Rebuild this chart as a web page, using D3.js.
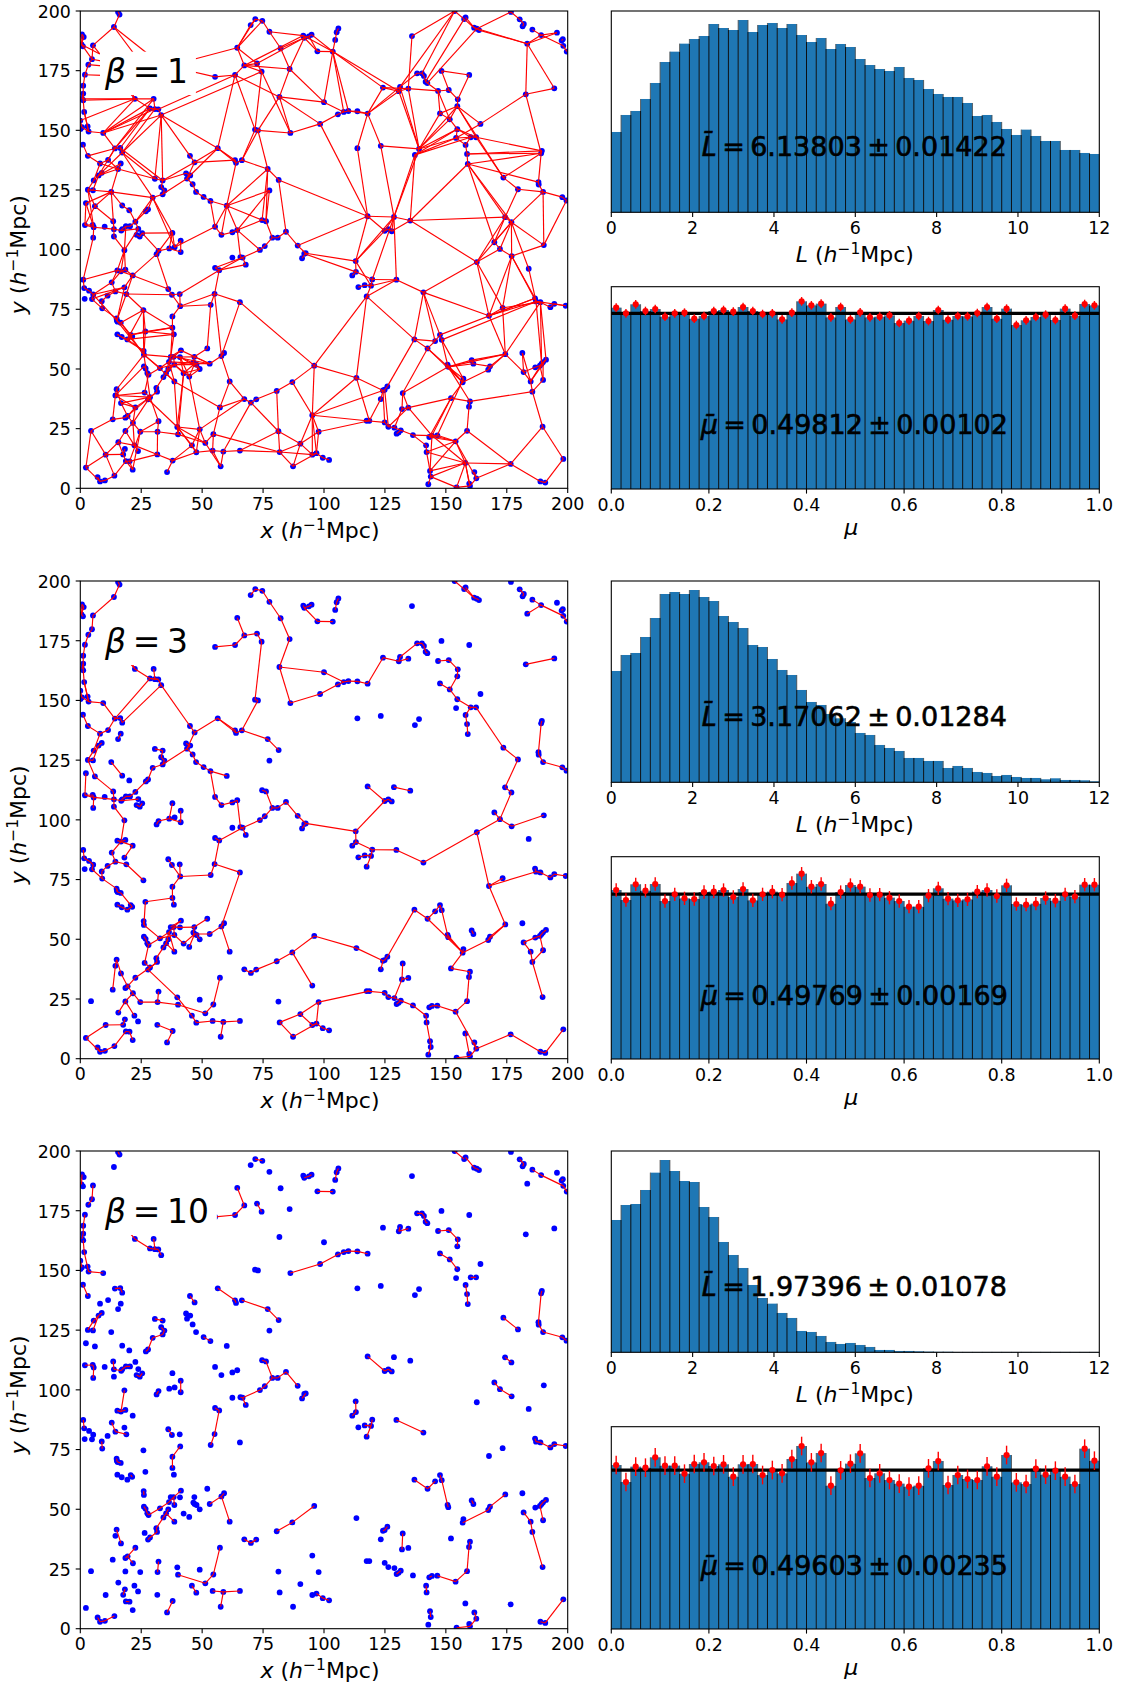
<!DOCTYPE html>
<html><head><meta charset="utf-8">
<style>html,body{margin:0;padding:0;background:#fff}svg{display:block}
text{font-family:"DejaVu Sans",sans-serif;fill:#000}
.ax path.domain{display:none}.ax line{stroke:#000;stroke-width:1.1}.ax text{font-size:17.4px;fill:#000}
</style>
<script src="https://cdn.jsdelivr.net/npm/d3@7"></script></head><body><script>
const betas=[1,3,10];
const xTicksXY=[0,25,50,75,100,125,150,175,200];
const lTicks=[0,2,4,6,8,10,12];
const muTicks=[0,0.2,0.4,0.6,0.8,1.0];
const lStats=["6.13803 ± 0.01422","3.17062 ± 0.01284","1.97396 ± 0.01078"];
const muStats=["0.49812 ± 0.00102","0.49769 ± 0.00169","0.49603 ± 0.00235"];
const points=[[15.5,199.6],[16.1,198.5],[13.8,193.3],[0.7,190.2],[1.4,189.1],[0.5,186],[1.1,185.2],[5.2,185.6],[4.8,179.8],[3.3,177.5],[1.9,173.3],[1.2,168.7],[1.2,165.4],[0.7,163.2],[1.2,162.6],[1.6,157.7],[0,154.1],[3,151.6],[0.7,151.3],[0.1,150.6],[3.4,149.5],[9.4,148.9],[1.1,144],[3.1,139.3],
[22.4,163.2],[30.1,163.2],[28.6,159.2],[30.6,158.9],[32,158.8],[33.2,156.4],
[14.2,142.4],[16.4,142.6],[17.2,140.7],[11.4,137.6],[8.1,136.1],[16.6,136.1],[15.5,133.8],[8.8,132.2],[7.5,131.1],[5.5,129],[3.1,125.1],[5.2,124.9],[12.7,124.2],[2.3,119.5],[6,118.2],[17.2,118.5],[20.1,116.5],[13.5,111.9],[1.9,110.3],[5.1,110.4],[5.5,109.4],[10,109.6],[13.8,108.6],[16.8,108],[17.2,108.6],[18.7,109.8],[20.4,109.8],[22.6,111.7],[23.8,108.7],[23.1,106.2],[24.4,105.5],[25.4,106.9],[13.8,105.5],[5.3,105],
[18.1,99.8],[15.2,91.3],[16.7,90.9],[18.5,91.6],[21.5,89.2],[18.1,84.2],[12.9,86.3],[14.4,82.5],[18.9,81.4],[25.9,74.7],[1.2,87.4],[1.6,83.9],[3.6,82.8],[5.3,81.2],[4.8,79.3],[1.8,79.4],[8.8,78.4],[9,75.4],[11.2,80.7],
[14.9,71.2],[15,70.3],[15.3,69.8],[16.6,69.4],[15.2,64.5],[17,63.4],[19.3,62.4],[20.7,64.3],[21.3,63.6],[26.7,65.7],
[37.8,107],[36.5,100.5],[38.7,101],[41.2,103.8],[41.2,99],[32.1,99.5],[31.3,98.1],
[30.6,129.7],[33.8,129],[33.2,126.2],[34.5,124.8],[33.8,123.2],[29.7,121.8],[27.8,116.9],[26.9,116.1],
[43.4,132],[45.1,131.1],[43.8,129.8],[46.1,127.4],[47.5,124.2],[50.6,122.1],[53.4,120.4],[60.1,118.4],
[45,139.3],[46.9,136.6],[56.4,142.5],[63.5,137.5],[63.9,136.4],[66.3,137.5],[76.9,133.8],[81.4,129.2],[77.6,124.8],
[55.3,109.6],[57.9,106.2],[62.4,107.3],[64.4,108.2],[74.6,112.4],[76.2,111.9],[78.8,105],[81,105],[84.4,107.5],[89.2,101.7],[92.5,98.5],[91.9,98.3],[91,96.4],[73.7,99.9],[75.7,101.5],
[62.4,96.7],[65.7,96.9],[66.6,96.7],[67.9,93.7],[55.3,92.4],[57,91.4],[55.1,81.5],[53.5,76.9],[65.5,78],
[36.1,83.5],[37.6,81.1],[40.8,81.4],[41,76.3],[37.8,72],[37.8,67.3],[38.4,64.5],
[26,57.6],[26.1,56],[26.1,51.1],[26.8,50.2],[27.5,48.3],[28,47.6],[32.7,50.4],[36.4,53],[37.1,55.1],[38.3,55.1],[38.6,51.8],[40.9,55],[41.3,57.8],[46.8,55.1],[46.4,52.8],[46.9,52.2],[47.7,51.8],[49,50],[52.1,58.6],[53.1,52.2],[57.9,55.4],[59,56.7],[61.3,44.8],
[42.4,48.2],[44.7,46.8],[38.6,44.8],[36.1,50],[35.2,48.3],[34.1,46.6],
[26.4,40.1],[31.2,42.1],[31.5,40.5],[28.6,38.2],[27.8,37.3],[22.6,33.9],[14.9,41.5],[14.4,38.9],[16.7,35.7],
[13.3,28.9],[18.5,29.6],[19.4,30.3],[21.6,27.4],[24.6,23.7],[18.5,24],[15.6,19.3],[18.3,16.5],[17.6,14.2],[22.2,18],[23.7,15.6],[18.7,11.4],[20.2,11.3],[21.5,7.8],[10.4,14.1],[2.3,8.7],[7.1,4.7],[8.1,2.9],[10.1,3.3],[14,5.3],[4.4,24.1],
[32.1,28.1],[31.7,23.7],[31.6,14.2],[37.9,11.6],[35.6,6.8],[39.8,25.7],[40.1,22.6],[49,24.7],[45.8,18],[47.6,15.1],[51.3,19],[54.6,22.7],[57.3,33.9],[54.3,15.8],[58.7,15.4],[65.5,15.8],[57.6,9.2],
[67.3,37.4],[70,35.9],[72.2,37.3],[80.6,40.8],[87,44.5],[96,51.4],[95.2,30.6],[81.3,23.9],[97.8,23.7],[81.8,15.2],[90.3,18.7],[87.3,9.2],[95.2,14.1],[96.9,14.7],[99.5,12.8],[102.1,11.9],
[64.4,184.6],[67.3,177.2],[63.5,173.2],[55.3,172.4],[72.5,178],[74.4,174.6],[69.9,194.1],[71.8,196.6],[74.7,195.9],[77.6,191.3],[82.2,184.4],[85.9,175.7],[81.7,164],[100,161.8],[98.4,152.7],[86.2,148.9],[71.7,150.3],[72.9,150],
[91.5,189.7],[91.9,188.8],[93.8,189.4],[94.9,190.1],[97.3,183.1],[103.6,183],[104.6,187.9],[105.2,191.1],[105.9,192.7],
[136.1,189.5],[105.7,156.7],[108.1,157.7],[110,158.1],[113.7,158],[117.9,157],[124.2,167.9],[131.2,168.2],[130.7,166.4],[134.6,167.5],[138.2,173.9],[140.2,173.9],[141,172.8],[141.7,170.4],[142.4,169.8],[148.2,174.9],[159.6,173.2],[146.8,166.5],[151.2,166.9],[154.9,163],[154.7,160.1],[147.6,157.1],[151.6,154.6],[154.7,150.5],[164.2,152.7],[154.2,146.8],[160.2,147.1],[162.4,147.1],[113.7,142.5],[123.3,143.5],[139,142.2],[137.3,139.7],[158.1,143.9],[158.7,140.1],[159,135.9],
[153.6,200],[157.5,196.6],[158.1,197.3],[161.6,193],[162.7,192.6],[163.6,192],[176.7,199.6],[180.3,196.5],[182,194.6],[181.5,193.6],[185.5,192.2],[189.1,189.9],[195.6,190.9],[198,188.2],[197.5,187.6],[198.2,185.4],[199.6,183],[183.4,186.3],[182.8,165.1],[194.5,167.6],
[173.6,130.2],[179.6,125.3],[174.3,113.6],[176.9,111.5],[169.9,103.1],[172.2,100.3],[177,97.3],[190.2,101.9],[162.7,94.8],[184,92],
[189.1,140.4],[189.4,141.4],[188,128.3],[188.1,127.3],[189.9,124.2],[197.8,122],[199.5,120.6],
[186.6,79.6],[187,78.3],[188.8,78],[192.9,75.9],[194.5,77.3],[199.2,76.5],[167.7,72.3],[173.3,75.6],
[128.7,113.7],[135.4,112.2],[117.9,114],[124.9,107.9],[126.4,108.6],[127.8,107.7],[113,95.2],[113.1,90.7],[111.6,89.2],[119.8,87.5],[116.7,85.1],[114.1,84.3],[119.3,84.9],[117.5,80.4],[129.7,87.4],[140.8,82.1],
[137.1,62.4],[142.5,58.6],[145.6,61.7],[147.6,64.3],[148.3,62.2],[150.7,51.8],[151,50.9],[181.4,56.7],[191.1,53.9],[189.9,52.9],[189.3,52.2],[188.6,51.4],[186.7,50.7],[181.9,48.7],[184.8,44.8],[189.9,45.4],[185.5,40.5],
[160.6,53.7],[161.3,52.2],[168.1,51.1],[167.4,49.7],[174.4,56.2],[157.2,45.9],[156.9,44.4],[152.1,37.8],[159.9,36.4],[159.5,34.2],[158.7,24.1],[154,19.7],
[113.3,46.3],[123.3,37.4],[124.2,41],[124.9,41.3],[126,42.7],[132.3,39.9],[132,33.2],[134.6,33.8],
[117.5,28.3],[118.6,28.3],[124.9,27.6],[126.4,25.8],[128.9,25.4],[131.5,24.3],[129.8,22.9],[130.6,23.4],[136.5,22.3],[141.9,18],[142.1,15.2],[143.2,21.5],[144.3,22.1],[146.5,22.2],[143.5,7.3],[143.8,4.9],[142.8,1.7],[158,10.6],[161.7,6.8],[162.5,4.2],[159.6,2],[159.9,1],[154.4,0.4],[176.6,10.2],[189.7,25.8],[188.8,2.9],[190.8,2.4],[198.2,12.3]];

const chainsBeta10=[[15.5,199.6,16.1,198.5],[0.7,190.2,0.5,186],[5.2,185.6,4.8,179.8,3.3,177.5],[1.9,173.3,1.2,168.7,1.2,165.4,0.7,163.2],[1.2,162.6,1.6,157.7,3.4,149.5,9.4,148.9],[0,154.1,0.7,151.3],[1.1,144,3.1,139.3],[14.2,142.4,16.4,142.6,17.2,140.7],[8.8,132.2,7.5,131.1,5.5,129,3.1,125.1],[5.2,124.9,7.5,131.1],[30.6,129.7,33.8,129],[33.2,126.2,34.5,124.8,33.8,123.2,29.7,121.8,27.8,116.9,26.9,116.1],[1.9,110.3,5.1,110.4,5.5,109.4,5.3,105],[13.5,111.9,13.8,108.6,16.8,108,17.2,108.6,18.7,109.8,20.4,109.8],[23.1,106.2,24.4,105.5,25.4,106.9],[41.2,103.8,41.2,99],[32.1,99.5,31.3,98.1],[18.1,99.8,16.7,90.9],[15.2,91.3,16.7,90.9,18.5,91.6],[1.2,87.4,1.6,83.9],[12.9,86.3,14.4,82.5,18.9,81.4],[8.8,78.4,9,75.4],[14.9,71.2,15,70.3,15.3,69.8,16.6,69.4],[21.3,63.6,20.7,64.3],[36.1,83.5,37.6,81.1],[41,76.3,37.8,72,37.8,67.3],[45,139.3,46.9,136.6],[50.6,122.1,53.4,120.4],[56.4,142.5,63.5,137.5,63.9,136.4],[66.3,137.5,76.9,133.8,81.4,129.2],[64.4,184.6,67.3,177.2,63.5,173.2,55.3,172.4],[72.5,178,74.4,174.6],[71.8,196.6,74.7,195.9],[91.9,188.8,93.8,189.4,94.9,190.1],[97.3,183.1,103.6,183],[104.6,187.9,105.2,191.1,105.9,192.7],[22.4,163.2,28.6,159.2,30.6,158.9,32,158.8,33.2,156.4],[30.1,163.2,30.6,158.9],[22.4,163.2,20,166],
[74.6,112.4,76.2,111.9,78.8,105,75.7,101.5,73.7,99.9,66.6,96.7,65.7,96.9],[66.6,96.7,67.9,93.7],[78.8,105,81,105,84.4,107.5,89.2,101.7],[92.5,98.5,91,96.4],[55.3,92.4,57,91.4,55.1,81.5,53.5,76.9],[86.2,148.9,98.4,152.7,105.7,156.7,108.1,157.7,110,158.1,113.7,158,117.9,157],[131.2,168.2,130.7,166.4,134.6,167.5],[138.2,173.9,140.2,173.9,141,172.8,141.7,170.4,142.4,169.8],[146.8,166.5,151.2,166.9,154.9,163,154.7,160.1],[147.6,157.1,151.6,154.6,154.7,150.5],[158.1,143.9,158.7,140.1,159,135.9],[160.2,147.1,162.4,147.1],[153.6,200,157.5,196.6],[158.1,197.3,161.6,193,162.7,192.6,163.6,192],[180.3,196.5,182,194.6,181.5,193.6],[185.5,192.2,189.1,189.9,198.2,185.4,199.6,183],[198,188.2,197.5,187.6],[173.6,130.2,179.6,125.3],[174.3,113.6,176.9,111.5],[169.9,103.1,172.2,100.3,177,97.3],[189.1,140.4,188,128.3],[189.4,141.4,189.1,140.4],[188,128.3,188.1,127.3,189.9,124.2,197.8,122,199.5,120.6],[186.6,79.6,187,78.3,188.8,78,192.9,75.9,194.5,77.3,199.2,76.5],[117.9,114,124.9,107.9,126.4,108.6,127.8,107.7],[113,95.2,113.1,90.7,111.6,89.2],[119.8,87.5,119.3,84.9,117.5,80.4],[129.7,87.4,140.8,82.1],[116.7,85.1,119.3,84.9],[137.1,62.4,142.5,58.6,145.6,61.7],[147.6,64.3,148.3,62.2,150.7,51.8,151,50.9],[156.9,44.4,167.4,49.7,168.1,51.1,174.4,56.2],[160.6,53.7,161.3,52.2],[96,51.4,87,44.5,80.6,40.8],[67.3,37.4,70,35.9,72.2,37.3],[124.2,41,124.9,41.3,126,42.7],[132.3,39.9,132,33.2],[159.9,36.4,159.5,34.2,158.7,24.1,154,19.7,146.5,22.2],[144.3,22.1,143.2,21.5],[141.9,18,142.1,15.2],[143.5,7.3,143.8,4.9],[154.4,0.4,159.9,1,162.5,4.2,161.7,6.8],[188.8,2.9,190.8,2.4,198.2,12.3],[181.9,48.7,184.8,44.8,185.5,40.5,189.7,25.8],[188.6,51.4,189.9,45.4],[188.6,51.4,189.3,52.2,189.9,52.9,191.1,53.9],[129.8,22.9,131.5,24.3],[96.9,14.7,99.5,12.8,102.1,11.9],[54.3,15.8,58.7,15.4,65.5,15.8],[58.7,15.4,57.6,9.2],[35.6,6.8,37.9,11.6],[40.1,22.6,51.3,19,54.6,22.7,57.3,33.9],[45.8,18,47.6,15.1],[31.7,23.7,32.1,28.1],[18.5,29.6,19.4,30.3,22.6,33.9],[19.4,30.3,21.6,27.4],[14.9,41.5,16.7,35.7],[27.8,37.3,28.6,38.2,31.5,40.5,31.2,42.1,34.1,46.6,35.2,48.3,36.1,50],[35.2,48.3,38.6,44.8],[36.4,53,38.3,55.1,41.3,57.8],[38.3,55.1,38.6,51.8],[26.8,50.2,27.5,48.3,28,47.6,32.7,50.4,36.4,53],[53.1,52.2,57.9,55.4,59,56.7],[57.9,55.4,61.3,44.8],[17.6,14.2,18.3,16.5],[18.7,11.4,20.2,11.3],[7.1,4.7,8.1,2.9,10.1,3.3,14,5.3],[26,57.6,26.1,56],[26.1,51.1,26.8,50.2]];

const chainsBeta3=[[16.1,198.5,13.8,193.3,5.2,185.6,4.8,179.8,3.3,177.5,1.9,173.3,1.2,168.7,1.2,165.4,1.2,162.6,1.6,157.7,3,151.6,3.4,149.5,9.4,148.9,14.2,142.4,11.4,137.6,8.1,136.1,3.1,139.3,1.1,144],[0.7,190.2,1.4,189.1,0.5,186,1.1,185.2],[0,154.1,0.7,151.3,3.4,149.5],[14.2,142.4,16.4,142.6,17.2,140.7,33.2,156.4,32,158.8,28.6,159.2,14.2,142.4],[22.4,163.2,20,168],[30.1,163.2,30.6,158.9],[33.2,156.4,45,139.3,46.9,136.6,56.4,142.5,63.9,136.4,66.3,137.5,76.9,133.8,81.4,129.2],[46.9,136.6,43.8,129.8,33.8,123.2,29.7,121.8,27.8,116.9,26.9,116.1,22.6,111.7,20.4,109.8,18.7,109.8,17.2,108.6,16.8,108,13.8,108.6,5.5,109.4],[2.3,119.5,1.9,110.3,5.5,109.4],[16.8,108,23.8,108.7],[5.5,109.4,5.3,105],[3.1,125.1,6,118.2,13.5,111.9,13.8,108.6,13.8,105.5,18.1,99.8,16.7,90.9,21.5,89.2,18.1,84.2],[16.7,90.9,12.9,86.3,14.4,82.5,18.9,81.4,25.9,74.7],[14.4,82.5,11.2,80.7,8.8,78.4,9,75.4,4.8,79.3,5.3,81.2,3.6,82.8,1.6,83.9,1.2,87.4],[15.2,91.3,16.7,90.9],[9,75.4,14.9,71.2,15.3,69.8,16.6,69.4,20.7,64.3],[15.2,64.5,17,63.4,19.3,62.4,21.3,63.6],[3.1,125.1,5.2,124.9,7.5,131.1,8.8,132.2],[5.5,129,8.1,136.1,11.4,137.6],[5.5,129,3.1,125.1],[16.6,136.1,15.5,133.8],[12.7,124.2,17.2,118.5],[30.6,129.7,33.8,129,33.2,126.2,34.5,124.8,33.8,123.2],[43.4,132,45.1,131.1,43.8,129.8,46.1,127.4,47.5,124.2,50.6,122.1,53.4,120.4,60.1,118.4],[53.4,120.4,55.3,109.6,57.9,106.2,62.4,107.3,64.4,108.2,65.7,96.9,66.6,96.7,67.9,93.7],[57,91.4,66.6,96.7,73.7,99.9,75.7,101.5,78.8,105,76.2,111.9,74.6,112.4],[78.8,105,81,105,84.4,107.5,89.2,101.7,92.5,98.5,91,96.4],[92.5,98.5,113,95.2,124.9,107.9,117.9,114],[124.9,107.9,126.4,108.6,127.8,107.7],[128.7,113.7,135.4,112.2],[55.3,92.4,57,91.4,55.1,81.5,65.5,78,57.9,55.4,53.1,52.2,46.9,52.2,46.4,52.8,46.8,55.1,40.9,55,38.3,55.1],[55.1,81.5,53.5,76.9,41,76.3,37.8,72,37.8,67.3,26.7,65.7,26.1,56,26,57.6],[36.1,83.5,37.6,81.1,41,76.3],[40.8,81.4,41,76.3],[37.8,67.3,38.4,64.5],[52.1,58.6,46.8,55.1],[38.3,55.1,36.4,53,35.2,48.3,34.1,46.6],[41.3,57.8,37.1,55.1],[32.7,50.4,28,47.6,27.5,48.3,26.8,50.2,26.1,51.1],[26.1,56,32.7,50.4,38.6,51.8,42.4,48.2,46.9,52.2,44.7,46.8],[36.4,53,38.6,44.8],[53.1,52.2,57.9,55.4,61.3,44.8],[57.9,55.4,59,56.7],[47.7,51.8,49,50],[28,47.6,26.4,40.1,28.6,38.2],[34.1,46.6,31.2,42.1,31.5,40.5,27.8,37.3,39.8,25.7,45.8,18,47.6,15.1,54.3,15.8,58.7,15.4,65.5,15.8],[58.7,15.4,57.6,9.2],[28.6,38.2,22.6,33.9,19.4,30.3,18.5,29.6],[14.9,41.5,14.4,38.9,13.3,28.9],[14.9,41.5,16.7,35.7,19.4,30.3,21.6,27.4,24.6,23.7,31.7,23.7,32.1,28.1],[31.7,23.7,40.1,22.6,51.3,19,54.6,22.7,57.3,33.9],[21.6,27.4,18.5,24,15.6,19.3],[18.5,24,22.2,18],[2.3,8.7,10.4,14.1,17.6,14.2,18.3,16.5],[2.3,8.7,8.1,2.9,10.1,3.3,14,5.3,18.7,11.4,20.2,11.3,21.5,7.8],[7.1,4.7,8.1,2.9],[31.6,14.2,37.9,11.6,35.6,6.8],[67.3,37.4,70,35.9,72.2,37.3,80.6,40.8,87,44.5,96,51.4,113.3,46.3,124.2,41,124.9,41.3,126,42.7,137.1,62.4,142.5,58.6,156.9,44.4],[87,44.5,95.2,30.6],[123.3,37.4,124.2,41],[81.8,15.2,90.3,18.7,97.8,23.7,96.9,14.7,87.3,9.2,81.8,15.2],[90.3,18.7,95.2,14.1,96.9,14.7],[97.8,23.7,118.6,28.3,117.5,28.3,124.9,27.6,126.4,25.8,128.9,25.4,131.5,24.3,136.5,22.3,141.9,18,142.1,15.2,143.5,7.3,143.8,4.9,142.8,1.7],[128.9,25.4,132,33.2,134.6,33.8],[132,33.2,132.3,39.9],[143.2,21.5,144.3,22.1,146.5,22.2,154,19.7,162.5,4.2,176.6,10.2,188.8,2.9],[162.5,4.2,159.9,1],[158,10.6,159.6,2],[154,19.7,158.7,24.1],[152.1,37.8,159.9,36.4],[152.1,37.8,156.9,44.4,157.2,45.9],[156.9,44.4,167.4,49.7,174.4,56.2,167.7,72.3,162.7,94.8,172.2,100.3,177,97.3,190.2,101.9],[172.2,100.3,176.9,111.5,174.3,113.6,179.6,125.3,173.6,130.2,162.4,147.1,160.2,147.1,158.1,143.9],[142.5,58.6,145.6,61.7,147.6,64.3,148.3,62.2,150.7,51.8,156.9,44.4],[151,50.9,156.9,44.4],[167.7,72.3,173.3,75.6],[167.7,72.3,187,78.3],[186.6,79.6,187,78.3],[181.9,48.7,186.7,50.7,188.6,51.4],[188.6,51.4,189.9,45.4,185.5,40.5,189.7,25.8],[182.8,165.1,194.5,167.6],[183.4,186.3,189.1,189.9],[157.5,196.6,161.6,193],[69.9,194.1,71.8,196.6],[67.3,177.2,72.5,178,74.4,174.6,71.7,150.3,72.9,150,66.3,137.5],[74.7,195.9,77.6,191.3,82.2,184.4,85.9,175.7,81.7,164,100,161.8,108.1,157.7],[117.9,157,124.2,167.9,130.7,166.4],[131.2,168.2,138.2,173.9],[81.7,164,86.2,148.9],[91.9,188.8,97.3,183.1],[91.5,189.7,91.9,188.8],[151.6,154.6,154.7,160.1],[154.7,150.5,160.2,147.1],[36.5,100.5,41.2,99],[37.8,107,36.5,100.5,32.1,99.5],[113.1,90.7,119.8,87.5,129.7,87.4],[140.8,82.1,162.7,94.8],[114.1,84.3,116.7,85.1],[119.3,84.9,119.8,87.5]];

const chainsBeta1Extra=[[13.8,193.3,24.5,178.7],[13.8,193.3,32.7,178],[5.2,185.6,8,182],[0.5,186,8,182],[4.8,179.8,9,179],[3.3,177.5,9,177],[1.9,173.3,9,173],[0.5,186,4.8,179.8],[64.4,184.6,40,178],[55.3,172.4,40,176],[0.7,163.2,22.4,163.2,30.1,163.2],[1.2,162.6,22.4,163.2],[0,154.1,22.4,163.2],[9.4,148.9,22.4,163.2],[9.4,148.9,30.1,163.2],[9.4,148.9,28.6,159.2],[9.4,148.9,30.6,158.9],[9.4,148.9,33.2,156.4],[33.2,156.4,74.4,174.6],[32,158.8,63.5,173.2],[14.2,142.4,30.1,163.2],[16.4,142.6,28.6,159.2],[17.2,140.7,30.6,158.9],[33.2,156.4,56.4,142.5],[33.2,156.4,30.6,129.7],[33.2,156.4,33.8,129],[17.2,140.7,30.6,129.7],[16.4,142.6,33.8,129],[7.5,131.1,17.2,140.7],[7.5,131.1,14.2,142.4],[7.5,131.1,16.6,136.1],[7.5,131.1,15.5,133.8],[11.4,137.6,15.5,133.8],[8.1,136.1,15.5,133.8],[15.5,133.8,30.6,129.7],[3.1,139.3,14.2,142.4],[12.7,124.2,15.5,133.8],[12.7,124.2,3.1,125.1],[12.7,124.2,2.3,119.5],[12.7,124.2,6,118.2],[1.9,110.3,6,118.2],[5.5,109.4,3.1,125.1],[5.5,109.4,2.3,119.5],[12.7,124.2,13.8,108.6],[12.7,124.2,29.7,121.8],[17.2,140.7,29.7,121.8],[29.7,121.8,37.8,107],[29.7,121.8,38.7,101],[37.8,107,25.4,106.9],[37.8,107,38.7,101],[38.7,101,55.3,109.6],[33.8,129,43.4,132],[33.8,129,46.9,136.6],[43.8,129.8,56.4,142.5],[46.9,136.6,63.5,137.5],[56.4,142.5,63.5,173.2],[63.9,136.4,60.1,118.4],[76.9,133.8,60.1,118.4],[77.6,124.8,60.1,118.4],[60.1,118.4,74.6,112.4],[60.1,118.4,55.3,109.6],[60.1,118.4,57.9,106.2],[60.1,118.4,64.4,108.2],[76.9,133.8,74.6,112.4],[76.9,133.8,76.2,111.9],[77.6,124.8,64.4,108.2],[77.6,124.8,76.2,111.9],[72.9,150,76.9,133.8],[71.7,150.3,66.3,137.5],[72.9,150,86.2,148.9],[81.4,129.2,84.4,107.5],[81.4,129.2,117.9,114],[63.5,173.2,81.7,164],[67.3,177.2,85.9,175.7],[64.4,184.6,72.5,178],[64.4,184.6,69.9,194.1],[64.4,184.6,71.8,196.6],[64.4,184.6,74.7,195.9],[77.6,191.3,91.5,189.7],[74.4,174.6,86.2,148.9],[85.9,175.7,100,161.8],[82.2,184.4,91.9,188.8],[85.9,175.7,91.9,188.8],[103.6,183,100,161.8],[67.3,177.2,91.5,189.7],[72.5,178,91.9,188.8],[63.5,173.2,71.7,150.3],[67.3,177.2,74.4,174.6],[81.7,164,72.9,150],[81.7,164,98.4,152.7],[98.4,152.7,117.9,114],[17.2,118.5,20.1,116.5,22.6,111.7],[29.7,121.8,22.6,111.7],[18.1,99.8,23.8,108.7],[18.7,109.8,18.1,99.8],[32.1,99.5,25.4,106.9],[41.2,103.8,38.7,101],[31.3,98.1,37.8,107],[5.3,105,1.2,87.4],[22.6,111.7,23.8,108.7],[36.5,100.5,32.1,99.5],
[64.4,108.2,74.6,112.4],[64.4,108.2,73.7,99.9],[89.2,101.7,117.9,114],[1.2,87.4,15.2,91.3],[5.3,81.2,12.9,86.3],[12.9,86.3,15.2,91.3],[5.3,81.2,18.1,84.2],[4.8,79.3,18.1,84.2],[18.9,81.4,37.6,81.1],[21.5,89.2,36.1,83.5],[18.5,91.6,21.5,89.2],[18.9,81.4,21.5,89.2],[18.1,99.8,15.2,91.3],[18.1,99.8,18.5,91.6],[21.5,89.2,31.3,98.1],[36.1,83.5,31.3,98.1],[25.9,74.7,26,57.6],[25.9,74.7,19.3,62.4],[25.9,74.7,16.6,69.4],[25.9,74.7,37.8,67.3],[25.9,74.7,26.7,65.7],[18.9,81.4,15,70.3],[18.1,84.2,15,70.3],[5.3,81.2,15,70.3],[20.7,64.3,26.7,65.7],[19.3,62.4,38.4,64.5],[26.7,65.7,38.4,64.5],[20.7,64.3,37.8,67.3],[15,70.3,26.1,56],[16.6,69.4,26.1,56],[19.3,62.4,26,57.6],[15.2,64.5,26,57.6],[26.1,56,37.1,55.1],[41.3,57.8,53.1,52.2],[38.4,64.5,37.1,55.1],[37.8,67.3,37.1,55.1],[53.5,76.9,52.1,58.6],[55.1,81.5,57.9,55.4],[65.5,78,96,51.4],[55.1,81.5,41,76.3],[40.8,81.4,57,91.4],[37.6,81.1,40.8,81.4],[55.3,92.4,66.6,96.7],[57,91.4,67.9,93.7],
[26.1,56,28.6,38.2],[26.1,56,38.6,44.8],[14.9,41.5,26.1,56],[14.4,38.9,26.1,51.1],[14.4,38.9,26.4,40.1],[14.4,38.9,28.6,38.2],[16.7,35.7,28.6,38.2],[16.7,35.7,22.6,33.9],[14.4,38.9,22.6,33.9],[18.5,29.6,28.6,38.2],[21.6,27.4,28.6,38.2],[21.6,27.4,22.6,33.9],[13.3,28.9,18.5,29.6],[13.3,28.9,4.4,24.1],[4.4,24.1,2.3,8.7],[4.4,24.1,10.4,14.1],[10.4,14.1,14,5.3],[15.6,19.3,18.5,24],[10.4,14.1,15.6,19.3],[15.6,19.3,22.2,18],[15.6,19.3,17.6,14.2,18.7,11.4,21.5,7.8],[23.7,15.6,22.2,18],[22.2,18,21.6,27.4],[24.6,23.7,21.5,7.8],[24.6,23.7,20.2,11.3],[28.6,38.2,32.1,28.1],[24.6,23.7,32.1,28.1],[31.7,23.7,31.6,14.2],[20.2,11.3,31.6,14.2],[31.6,14.2,22.2,18],[37.9,11.6,47.6,15.1],[47.6,15.1,39.8,25.7],[37.9,11.6,45.8,18],[39.8,25.7,40.1,22.6],[39.8,25.7,49,24.7],[49,24.7,45.8,18],[49,24.7,51.3,19],[49,24.7,47.6,15.1],[49,24.7,67.3,37.4],[39.8,25.7,51.3,19],[54.6,22.7,54.3,15.8],[57.3,33.9,67.3,37.4],[57.3,33.9,38.6,44.8],[61.3,44.8,57.3,33.9],[61.3,44.8,67.3,37.4],[51.3,19,57.6,9.2],[54.3,15.8,57.6,9.2],[58.7,15.4,70,35.9],[65.5,15.8,81.8,15.2],[81.8,15.2,81.3,23.9],[81.3,23.9,65.5,15.8],[81.3,23.9,70,35.9],[81.3,23.9,80.6,40.8],[81.3,23.9,90.3,18.7],[54.6,22.7,81.8,15.2],[38.6,44.8,39.8,25.7],[42.4,48.2,39.8,25.7],[42.4,48.2,40.1,22.6],[44.7,46.8,49,24.7],[95.2,30.6,97.8,23.7],[95.2,30.6,95.2,14.1],[95.2,30.6,96.9,14.7],[90.3,18.7,95.2,30.6],[97.8,23.7,90.3,18.7],[81.8,15.2,95.2,14.1],[90.3,18.7,87.3,9.2],[96,51.4,95.2,30.6],
[38.3,55.1,53.1,52.2],[36.4,53,53.1,52.2],[40.9,55,46.9,52.2],[38.6,51.8,46.4,52.8],[38.6,51.8,47.7,51.8],[46.8,55.1,53.1,52.2],[40.9,55,49,50],[38.6,51.8,44.7,46.8],[40.9,55,44.7,46.8],[42.4,48.2,40.9,55],[42.4,48.2,49,50],[44.7,46.8,49,50],[35.2,48.3,38.6,51.8],[36.1,50,38.6,51.8],[37.1,55.1,36.4,53],
[140.8,82.1,167.7,72.3],[140.8,82.1,137.1,62.4],[140.8,82.1,145.6,61.7],[140.8,82.1,147.6,64.3],[117.5,80.4,137.1,62.4],[117.5,80.4,113.3,46.3],[117.5,80.4,96,51.4],[129.7,87.4,117.5,80.4],[162.7,94.8,167.7,72.3],[162.7,94.8,173.3,75.6],[177,97.3,173.3,75.6],[177,97.3,167.7,72.3],[177,97.3,187,78.3],[177,97.3,186.6,79.6],[184,92,187,78.3],[173.3,75.6,174.4,56.2],[167.7,72.3,174.4,56.2],[188.8,78,174.4,56.2],[147.6,64.3,186.6,79.6],[148.3,62.2,187,78.3],[167.7,72.3,186.6,79.6],[173.3,75.6,188.8,78],[188.8,78,191.1,53.9],[188.8,78,189.3,52.2],[187,78.3,189.3,52.2],[187,78.3,199.2,76.5],[174.4,56.2,160.6,53.7],[151,50.9,160.6,53.7],[151,50.9,161.3,52.2],[161.3,52.2,168.1,51.1],[151,50.9,157.2,45.9],[151,50.9,159.9,36.4],[142.5,58.6,151,50.9],[137.1,62.4,126,42.7],[142.5,58.6,132.3,39.9],[151,50.9,132.3,39.9],[152.1,37.8,134.6,33.8],[152.1,37.8,144.3,22.1],[157,45.9,146.5,22.2],[159.9,36.4,185.5,40.5],[189.7,25.8,176.6,10.2],[189.7,25.8,198.2,12.3],[158.7,24.1,176.6,10.2],[176.6,10.2,158,10.6],[158,10.6,154,19.7],[158,10.6,144.3,22.1],[158,10.6,142.1,15.2],[158,10.6,143.5,7.3],[158,10.6,143.8,4.9],[154,19.7,143.5,7.3],[154,19.7,142.1,15.2],[144.3,22.1,143.5,7.3],[154.4,0.4,143.8,4.9],[158,10.6,154.4,0.4],[158,10.6,159.9,1],[113.3,46.3,124.2,41],[113.3,46.3,118.6,28.3],[124.2,41,124.9,27.6],[123.3,37.4,118.6,28.3],[124.9,41.3,126.4,25.8],[95.2,30.6,124.2,41],[95.2,30.6,117.5,28.3],[113.3,46.3,95.2,30.6],[132.3,39.9,134.6,33.8],[134.6,33.8,144.3,22.1],[134.6,33.8,126.4,25.8],[132,33.2,128.9,25.4],[136.5,22.3,144.3,22.1],[144.3,22.1,154,19.7],[143.2,21.5,154,19.7],[152.1,37.8,143.2,21.5],[137.1,62.4,145.6,61.7],[148.3,62.2,157.2,45.9],[174.4,56.2,151,50.9],[174.4,56.2,181.9,48.7],[184.8,44.8,189.3,52.2],[184.8,44.8,191.1,53.9],[181.4,56.7,181.9,48.7],[181.4,56.7,184.8,44.8],[185.5,40.5,189.9,45.4],[189.9,45.4,189.9,52.9],[113.1,90.7,119.8,87.5],[91.9,98.3,113.1,90.7],[119.8,87.5,128.7,113.7],[129.7,87.4,128.7,113.7],[119.3,84.9,113,95.2],[129.7,87.4,119.3,84.9],
[103.6,183,124.2,167.9],[103.6,183,130.7,166.4],[103.6,183,108.1,157.7],[103.6,183,110,158.1],[103.6,183,104.6,187.9],[100,161.8,108.1,157.7],[110,158.1,117.9,157],[113.7,158,117.9,157],[117.9,157,131.2,168.2],[117.9,157,130.7,166.4],[117.9,157,113.7,142.5],[117.9,157,123.3,143.5],[113.7,142.5,117.9,114],[123.3,143.5,139,142.2],[123.3,143.5,128.7,113.7],[130.7,166.4,139,142.2],[124.2,167.9,134.6,167.5],[134.6,167.5,146.8,166.5],[131.2,168.2,153.6,200],[136.1,189.5,134.6,167.5],[136.1,189.5,153.6,200],[140.2,173.9,153.6,200],[141.7,170.4,157.5,196.6],[142.4,169.8,162.7,192.6],[153.6,200,157.5,196.6],[162.7,192.6,176.7,199.6],[163.6,192,183.4,186.3],[161.6,193,183.4,186.3],[176.7,199.6,180.3,196.5],[183.4,186.3,189.1,189.9],[183.4,186.3,195.6,190.9],[189.1,189.9,195.6,190.9],[183.4,186.3,194.5,167.6],[183.4,186.3,182.8,165.1],[182.8,165.1,164.2,152.7],[182.8,165.1,189.1,140.4],[164.2,152.7,154.7,160.1],[154.7,160.1,173.6,130.2],[154.7,160.1,162.4,147.1],[154.7,160.1,139,142.2],[151.6,154.6,139,142.2],[147.6,157.1,139,142.2],[154.2,146.8,139,142.2],[154.7,150.5,139,142.2],[154.7,150.5,137.3,139.7],[154.2,146.8,137.3,139.7],[160.2,147.1,137.3,139.7],[162.4,147.1,189.1,141],[162.4,147.1,189.4,141.4],[158.7,140.1,189.1,140.4],[158.7,140.1,189.4,141.4],[159,135.9,189.1,140.4],[159,135.9,188,128.3],[173.6,130.2,189.1,140.4],[179.6,125.3,189.9,124.2],[189.9,124.2,176.9,111.5],[189.9,124.2,190.2,101.9],[197.8,122,199.5,120.6],[199.5,120.6,190.2,101.9],[159,135.9,174.3,113.6],[159,135.9,176.9,111.5],[159,135.9,169.9,103.1],[159,135.9,135.4,112.2],[176.9,111.5,190.2,101.9],[176.9,111.5,172.2,100.3],[176.9,111.5,177,97.3],[176.9,111.5,169.9,103.1],[176.9,111.5,184,92],[174.3,113.6,135.4,112.2],[137.3,139.7,135.4,112.2],[137.3,139.7,128.7,113.7],[139,142.2,128.7,113.7],[131.2,168.2,139,142.2],[134.6,167.5,139,142.2],[146.8,166.5,147.6,157.1],[146.8,166.5,151.6,154.6],[148.2,174.9,151.2,166.9],[148.2,174.9,159.6,173.2],[159.6,173.2,154.9,163],[154.9,163,154.7,160.1],[154.7,160.1,147.6,157.1],[146.8,166.5,151.2,166.9],[142.4,169.8,146.8,166.5],[117.9,114,128.7,113.7],[128.7,113.7,135.4,112.2],[117.9,114,113,95.2],[128.7,113.7,113,95.2],[128.7,113.7,124.9,107.9],[128.7,113.7,127.8,107.7],[135.4,112.2,127.8,107.7],[135.4,112.2,162.7,94.8],[174.3,113.6,169.9,103.1],[174.3,113.6,162.7,94.8],[176.9,111.5,162.7,94.8],[164.2,152.7,154.2,146.8],[158.1,143.9,154.2,146.8],[154.2,146.8,160.2,147.1],[154.7,150.5,154.2,146.8],[154.7,150.5,162.4,147.1],[91.5,189.7,103.6,183],[93.8,189.4,97.3,183.1],[94.9,190.1,103.6,183],[97.3,183.1,91.9,188.8]];

const lHist1=[241,292,304,340,388,451,482,506,520,529,565,553,547,577,541,562,568,553,565,532,511,523,490,505,496,460,442,430,424,436,403,397,370,355,346,346,328,289,292,271,250,232,248,229,214,214,187,187,178,175];
const lHist2=[334,382,388,436,493,565,571,565,577,556,544,499,481,463,412,406,370,337,322,277,241,232,205,192,181,148,142,112,103,94,73,73,64,64,43,49,43,31,28,19,22,16,13,13,9,12,7,7,6,3];
const lHist3=[397,442,445,487,539,577,544,514,511,436,406,331,292,253,202,163,146,118,103,64,61,49,31,25,28,22,16,7,7,4,4,3,2,1.5,1.5,1,1,1,1,1,1,1,1,1,1,1,1,1,1,1];
const lDomainMax=604;
const muTop1=[83,100,73,93,87,110,100,98,116,108,93,90,95,81,93,102,100,118,98,64,76,71,112,81,118,97,112,110,106,129,122,108,123,90,119,108,109,99,81,116,86,135,121,111,104,120,86,107,72,76];
const muTop2=[120,150,103,122,102,153,133,145,147,126,125,120,141,117,151,133,125,134,99,71,110,102,161,126,105,110,135,134,143,153,170,170,137,115,146,151,148,125,120,138,106,162,164,161,144,152,133,140,104,104];
const muTop3=[135,186,140,143,112,137,137,161,132,127,138,133,170,133,132,165,150,160,117,78,127,99,197,151,131,100,174,160,180,191,200,197,145,123,195,165,177,180,139,170,105,187,192,146,164,152,170,192,86,122];
const muDomainMax=607;
const muHists=[muTop1,muTop2,muTop3].map(a=>a.map(v=>627-v));
const muMeans=[527,495,477];
const muErrs=[13,20,28];

const svg=d3.select("body").append("svg").attr("width",1122).attr("height",1686);
const defs=svg.append("defs");
const rows=[
 {pTop:11,pBot:488.3,lTop:11,lBot:212.3,mTop:286.7,mBot:489,lBase:156,mBase:434},
 {pTop:581,pBot:1058.7,lTop:581,lBot:782.3,mTop:856.7,mBot:1059,lBase:726,mBase:1005},
 {pTop:1151,pBot:1628.7,lTop:1151,lBot:1352.3,mTop:1426.7,mBot:1629,lBase:1296,mBase:1575}];
const lx0=80.3,lx1=567.7,rx0=611.3,rx1=1099.3;

function snap(x,y){let best=null,bd=1.6*1.6;for(const p of points){const d=(p[0]-x)**2+(p[1]-y)**2;if(d<bd){bd=d;best=p}}return best||[x,y]}
function edgesFrom(list){const seen=new Map();for(const c of list){for(let i=0;i+3<c.length;i+=2){const a=snap(c[i],c[i+1]),b=snap(c[i+2],c[i+3]);if(a===b)continue;const k=[a,b].map(String).sort().join("|");if(!seen.has(k))seen.set(k,[a,b])}}return [...seen.values()]}
const edgeSets=[edgesFrom([...chainsBeta10,...chainsBeta3,...chainsBeta1Extra]),edgesFrom([...chainsBeta10,...chainsBeta3]),edgesFrom(chainsBeta10)];

function spines(g,x0,x1,y0,y1){g.append("rect").attr("x",x0).attr("y",y0).attr("width",x1-x0).attr("height",y1-y0).attr("fill","none").attr("stroke","#000").attr("stroke-width",1.1)}
function axisStyle(a){return a.tickSizeOuter(0).tickSize(4.6).tickPadding(4.8).offset(0)}
function hLabel(g,x,y,kind){
 const t=g.append("text").attr("x",x).attr("y",y).attr("text-anchor","middle").style("font-size","22px").attr("xml:space","preserve");
 if(kind==="mu"){t.append("tspan").attr("font-style","italic").text("μ");return t}
 t.append("tspan").attr("font-style","italic").text(kind);
 t.append("tspan").text(" (");
 t.append("tspan").attr("font-style","italic").text("h");
 t.append("tspan").attr("dy",-8).style("font-size","15.5px").text("−1");
 t.append("tspan").attr("dy",8).text("Mpc)");
 return t}

function statText(g,y,sym,val){
 const t=g.append("text").attr("x",(rx0+rx1)/2-1).attr("y",y).attr("text-anchor","middle").style("font-size","27px").style("word-spacing","-3.2px").attr("stroke","#000").attr("stroke-width",0.6).attr("xml:space","preserve");
 t.append("tspan").attr("font-style","italic").text(sym+"\u0304");
 t.append("tspan").text(" = "+val);
}

function histogram(g,top,bot,vals,domainMax,xDomain){
 const x=d3.scaleLinear().domain(xDomain).range([rx0,rx1]);
 const y=d3.scaleLinear().domain([0,domainMax]).range([bot,top]);
 const w=(xDomain[1]-xDomain[0])/vals.length;
 g.append("g").selectAll("rect").data(vals).join("rect")
  .attr("x",(d,i)=>x(xDomain[0]+i*w)).attr("width",(rx1-rx0)/vals.length+0.15)
  .attr("y",d=>y(d)).attr("height",d=>bot-y(d)).attr("fill","#1f77b4");
 const seps=d3.range(1,vals.length);
 g.append("g").selectAll("line").data(seps).join("line")
  .attr("x1",i=>x(xDomain[0]+i*w)).attr("x2",i=>x(xDomain[0]+i*w))
  .attr("y1",bot).attr("y2",i=>y(Math.min(vals[i-1],vals[i])))
  .attr("stroke","#0a0a0a").attr("stroke-width",0.95);
 g.append("g").selectAll("line").data(seps).join("line")
  .attr("x1",i=>x(xDomain[0]+i*w)).attr("x2",i=>x(xDomain[0]+i*w))
  .attr("y1",i=>y(Math.min(vals[i-1],vals[i]))).attr("y2",i=>y(Math.max(vals[i-1],vals[i])))
  .attr("stroke","#555").attr("stroke-width",0.9);
 return {x,y,w}
}

rows.forEach((r,ri)=>{
 const root=svg.append("g");
 const x=d3.scaleLinear().domain([0,200]).range([lx0,lx1]);
 const y=d3.scaleLinear().domain([0,200]).range([r.pBot,r.pTop]);
 defs.append("clipPath").attr("id","clip"+ri).append("rect").attr("x",lx0).attr("y",r.pTop).attr("width",lx1-lx0).attr("height",r.pBot-r.pTop);
 const p=root.append("g");
 const pc=p.append("g").attr("clip-path",`url(#clip${ri})`);
 pc.append("g").selectAll("circle").data(points).join("circle")
  .attr("cx",d=>x(d[0])).attr("cy",d=>y(d[1])).attr("r",2.9).attr("fill","#0000ff");
 pc.append("g").selectAll("line").data(edgeSets[ri]).join("line")
  .attr("x1",d=>x(d[0][0])).attr("y1",d=>y(d[0][1])).attr("x2",d=>x(d[1][0])).attr("y2",d=>y(d[1][1]))
  .attr("stroke","#ff0000").attr("stroke-width",1.15);
 const bb=p.append("rect").attr("fill","#fff").attr("x",100).attr("y",r.pTop+40.7).attr("height",43.3);
 const bt=p.append("text").attr("x",105).attr("y",r.pTop+71.7).style("font-size","33px").style("word-spacing","-3.9px").attr("xml:space","preserve");
 bt.append("tspan").attr("font-style","italic").text("β");
 bt.append("tspan").text(" = "+betas[ri]);
 bb.attr("width",bt.node().getComputedTextLength()+5+8);
 spines(p,lx0,lx1,r.pTop,r.pBot);
 p.append("g").attr("class","ax").attr("transform",`translate(0,${r.pBot})`).call(axisStyle(d3.axisBottom(x)).tickValues(xTicksXY));
 const ya=p.append("g").attr("class","ax").attr("transform",`translate(${lx0},0)`).call(axisStyle(d3.axisLeft(y)).tickValues(xTicksXY));
 ya.selectAll("text").attr("dy","0.39em");
 hLabel(p,(lx0+lx1)/2-4,r.pBot+49.7,"x");
 const yl=p.append("g").attr("transform",`translate(25.5,${(r.pTop+r.pBot)/2+5}) rotate(-90)`);
 hLabel(yl,0,0,"y");

 const lg=root.append("g");
 const h=histogram(lg,r.lTop,r.lBot,[lHist1,lHist2,lHist3][ri],lDomainMax,[0,12]);
 spines(lg,rx0,rx1,r.lTop,r.lBot);
 lg.append("g").attr("class","ax").attr("transform",`translate(0,${r.lBot})`).call(axisStyle(d3.axisBottom(h.x)).tickValues(lTicks).tickFormat(d3.format("d")));
 hLabel(lg,(rx0+rx1)/2-0.5,r.lBot+49.7,"L");
 statText(lg,r.lBase,"L",lStats[ri]);

 const mg=root.append("g");
 const vals=muHists[ri];
 const m=histogram(mg,r.mTop,r.mBot,vals,muDomainMax,[0,1]);
 mg.append("line").attr("x1",rx0).attr("x2",rx1).attr("y1",m.y(muMeans[ri])).attr("y2",m.y(muMeans[ri])).attr("stroke","#000").attr("stroke-width",3.3);
 const cx=i=>m.x((i+0.5)*m.w);
 mg.append("g").selectAll("line").data(vals).join("line")
  .attr("x1",(d,i)=>cx(i)).attr("x2",(d,i)=>cx(i)).attr("y1",d=>m.y(d-muErrs[ri])).attr("y2",d=>m.y(d+muErrs[ri]))
  .attr("stroke","#ff0000").attr("stroke-width",1.4);
 mg.append("g").selectAll("circle").data(vals).join("circle")
  .attr("cx",(d,i)=>cx(i)).attr("cy",d=>m.y(d)).attr("r",3.1).attr("fill","#ff0000");
 spines(mg,rx0,rx1,r.mTop,r.mBot);
 mg.append("g").attr("class","ax").attr("transform",`translate(0,${r.mBot})`).call(axisStyle(d3.axisBottom(m.x)).tickValues(muTicks).tickFormat(d3.format(".1f")));
 hLabel(mg,(rx0+rx1)/2-4,r.mBot+46,"mu");
 statText(mg,r.mBase,"μ",muStats[ri]);
});
</script></body></html>
